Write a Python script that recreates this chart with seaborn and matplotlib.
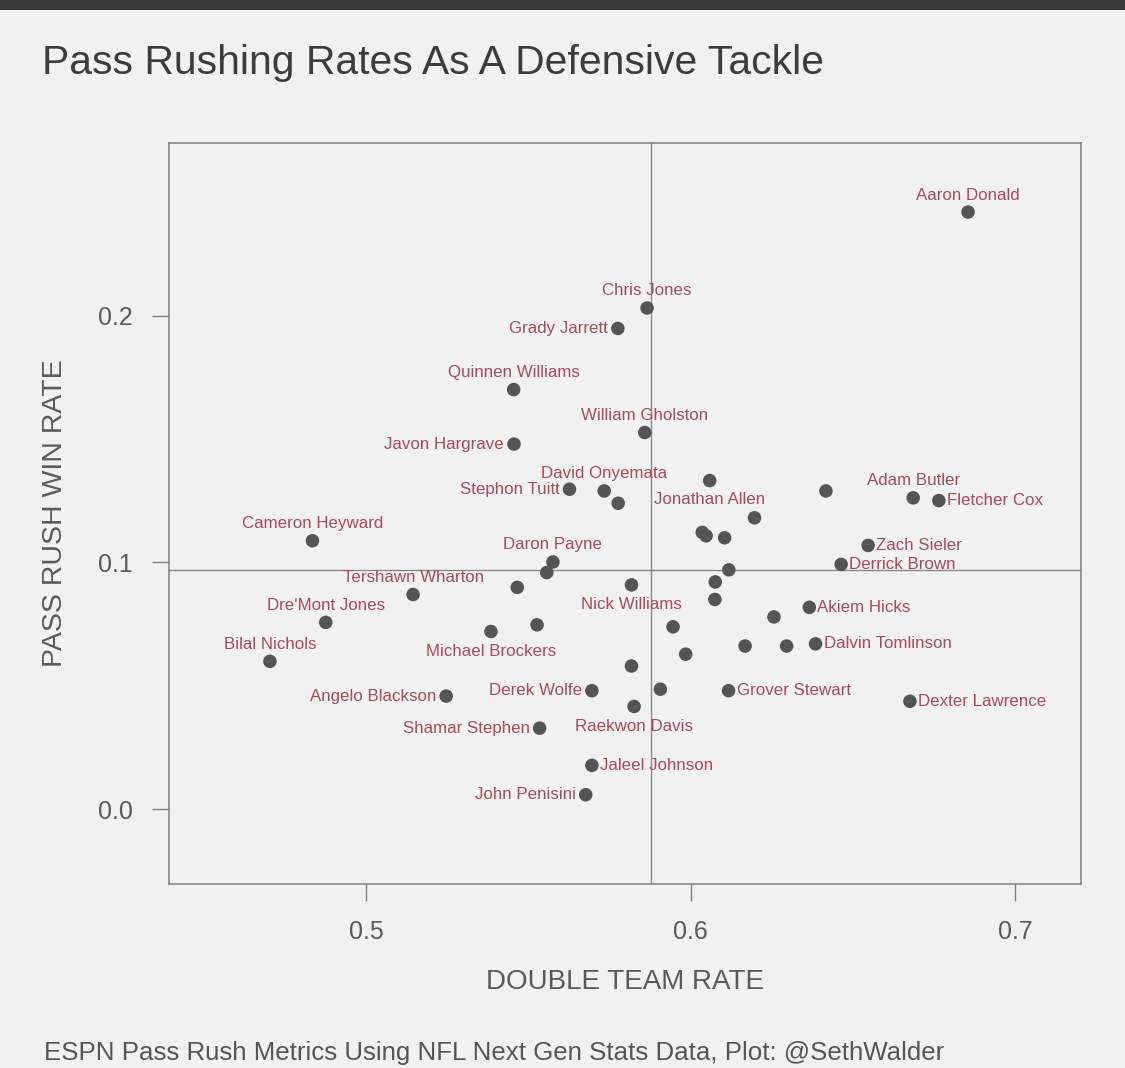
import matplotlib
matplotlib.use("Agg")
import matplotlib.pyplot as plt
import seaborn as sns
import pandas as pd
from matplotlib.patches import Rectangle

# data
double_team_rate = [
    0.6855, 0.5866, 0.5776, 0.5455, 0.5859, 0.5456, 0.5627, 0.5734, 0.5777, 0.6059,
    0.6417, 0.6686, 0.6765, 0.6197, 0.6036, 0.6048, 0.6105, 0.6547, 0.6464, 0.6118,
    0.6076, 0.6075, 0.5818, 0.6366, 0.6257, 0.5946, 0.6168, 0.6296, 0.6385, 0.5985,
    0.5818, 0.5907, 0.6117, 0.6676, 0.5696, 0.5826, 0.5696, 0.5677, 0.5535, 0.5247,
    0.5385, 0.5527, 0.5466, 0.5576, 0.5557, 0.5145, 0.4876, 0.4704, 0.4835,
]
pass_rush_win_rate = [
    0.2421, 0.2032, 0.1949, 0.1701, 0.1527, 0.1480, 0.1297, 0.1290, 0.1240, 0.1332,
    0.1290, 0.1262, 0.1251, 0.1181, 0.1122, 0.1108, 0.1100, 0.1069, 0.0992, 0.0970,
    0.0921, 0.0850, 0.0909, 0.0818, 0.0779, 0.0739, 0.0661, 0.0661, 0.0670, 0.0628,
    0.0580, 0.0486, 0.0480, 0.0437, 0.0480, 0.0416, 0.0177, 0.0058, 0.0328, 0.0458,
    0.0720, 0.0747, 0.0899, 0.1002, 0.0959, 0.0870, 0.0757, 0.0599, 0.1088,
]
players = [
    "Aaron Donald", "Chris Jones", "Grady Jarrett", "Quinnen Williams", "William Gholston",
    "Javon Hargrave", "Stephon Tuitt", "David Onyemata", None, None,
    None, "Adam Butler", "Fletcher Cox", "Jonathan Allen", None,
    None, None, "Zach Sieler", "Derrick Brown", None,
    None, None, "Nick Williams", "Akiem Hicks", None,
    None, None, None, "Dalvin Tomlinson", None,
    None, None, "Grover Stewart", "Dexter Lawrence", "Derek Wolfe",
    "Raekwon Davis", "Jaleel Johnson", "John Penisini", "Shamar Stephen", "Angelo Blackson",
    "Michael Brockers", None, None, "Daron Payne", None,
    "Tershawn Wharton", "Dre'Mont Jones", "Bilal Nichols", "Cameron Heyward",
]
avg_double_team = 0.5878
avg_win_rate = 0.0969

df = pd.DataFrame({"x": double_team_rate, "y": pass_rush_win_rate, "name": players})

# where each label sits relative to its dot (pixels)
above = (0, 17, "center")
below = (0, -20, "center")
left = (-10, 0, "right")
right = (8, 0, "left")
label_pos = {
    "Aaron Donald": above, "Chris Jones": above, "Quinnen Williams": above,
    "William Gholston": above, "David Onyemata": above, "Adam Butler": above,
    "Daron Payne": above, "Cameron Heyward": above, "Tershawn Wharton": above,
    "Dre'Mont Jones": above, "Bilal Nichols": above,
    "Grady Jarrett": left, "Javon Hargrave": left, "Stephon Tuitt": left,
    "Angelo Blackson": left, "Derek Wolfe": left, "Shamar Stephen": left,
    "John Penisini": left,
    "Fletcher Cox": right, "Zach Sieler": right, "Derrick Brown": right,
    "Jaleel Johnson": right, "Akiem Hicks": right, "Dalvin Tomlinson": right,
    "Grover Stewart": right, "Dexter Lawrence": right,
    "Nick Williams": below, "Michael Brockers": below, "Raekwon Davis": below,
    "Jonathan Allen": (-45, 18, "center"),
}

bg = "#f1f1f1"
sns.set_theme(style="white")
plt.rcParams["font.family"] = ["Liberation Sans", "DejaVu Sans"]

fig = plt.figure(figsize=(11.25, 10.68), dpi=100, facecolor=bg)
ax = fig.add_axes([169 / 1125, 1 - 884 / 1068, 912 / 1125, 741 / 1068])
ax.set_facecolor(bg)

# dark strip along the top
fig.patches.append(Rectangle((0, 1 - 10 / 1068), 1, 10 / 1068, transform=fig.transFigure,
                             facecolor="#3b3b3b", edgecolor="none", zorder=0))

ax.axvline(avg_double_team, color="#8a8a8a", lw=1, zorder=1)
ax.axhline(avg_win_rate, color="#8a8a8a", lw=1, zorder=1)

sns.scatterplot(data=df, x="x", y="y", ax=ax, color="#555555", s=95,
                edgecolor="none", zorder=3, legend=False)

for _, r in df.dropna(subset=["name"]).iterrows():
    dx, dy, ha = label_pos[r["name"]]
    ax.annotate(r["name"], (r["x"], r["y"]), xytext=(dx, dy), textcoords="offset pixels",
                ha=ha, va="center", fontsize=12.2, color="#a64a58", zorder=4)

ax.set_xlim(0.4393, 0.7203)
ax.set_ylim(-0.0304, 0.2701)
ax.set_xticks([0.5, 0.6, 0.7])
ax.set_yticks([0.0, 0.1, 0.2])
ax.set_xticklabels(["0.5", "0.6", "0.7"])
ax.set_yticklabels(["0.0", "0.1", "0.2"])
ax.tick_params(axis="both", direction="out", length=12, width=1, color="#7f7f7f",
               pad=14, labelsize=18, labelcolor="#5a5a5a", bottom=True, left=True)

for sp in ax.spines.values():
    sp.set_color("#7f7f7f")
    sp.set_linewidth(1.1)

ax.set_xlabel("DOUBLE TEAM RATE", fontsize=20, color="#5a5a5a")
ax.set_ylabel("PASS RUSH WIN RATE", fontsize=20.5, color="#5a5a5a")
ax.xaxis.set_label_coords(0.5, -0.115)
ax.yaxis.set_label_coords(-0.111, 0.5)

fig.text(42 / 1125, 1 - 74 / 1068, "Pass Rushing Rates As A Defensive Tackle",
         fontsize=29.4, color="#3c3c3c", ha="left", va="baseline")
fig.text(44 / 1125, 1 - 1060 / 1068,
         "ESPN Pass Rush Metrics Using NFL Next Gen Stats Data, Plot: @SethWalder",
         fontsize=18.6, color="#555555", ha="left", va="baseline")

fig.savefig("out.png", dpi=100, facecolor=bg)
